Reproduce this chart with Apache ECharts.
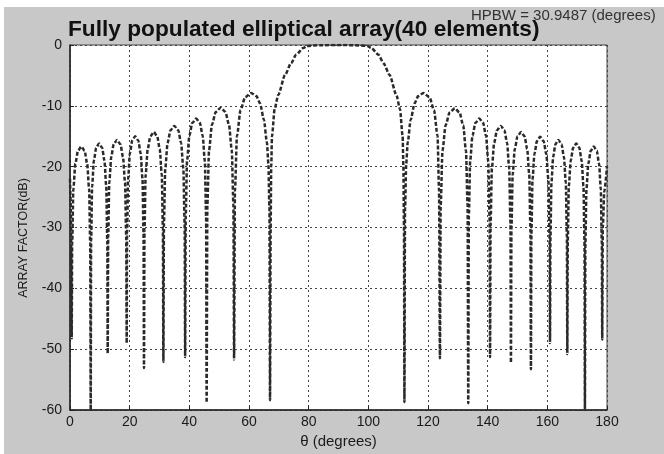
<!DOCTYPE html>
<html>
<head>
<meta charset="utf-8">
<title>Fully populated elliptical array</title>
<script src="https://cdn.jsdelivr.net/npm/echarts@6/dist/echarts.min.js"></script>
<style>
  html, body { margin: 0; padding: 0; background: #ffffff; }
  #chart { position: absolute; left: 4px; top: 7px; width: 660px; height: 447px; }
</style>
</head>
<body>
<div id="chart"></div>
<script>
// Array factor of a 40-element elliptical array, in dB versus angle (degrees).

// Side lobes left of broadside
const thetaLeft = [
  0, 0.3, 0.57,
  0.73, 1.12, 1.80, 2.67, 3.8, 4.90, 5.75, 6.41, 6.78, 6.94,
  7.08, 7.42, 8.01, 8.77, 9.75, 10.76, 11.54, 12.15, 12.50, 12.64,
  12.80, 13.17, 13.82, 14.66, 15.75, 16.89, 17.76, 18.45, 18.84, 19.0,
  19.14, 19.48, 20.08, 20.85, 21.85, 22.88, 23.68, 24.3, 24.65, 24.8,
  24.97, 25.36, 26.05, 26.95, 28.1, 29.22, 30.08, 30.76, 31.14, 31.3,
  31.49, 31.93, 32.71, 33.71, 35.0, 36.26, 37.23, 37.99, 38.42, 38.6,
  38.79, 39.23, 40.01, 41.01, 42.3, 43.52, 44.47, 45.2, 45.62, 45.8,
  46.04, 46.6, 47.59, 48.86, 50.5, 52.07, 53.29, 54.23, 54.77, 55.0,
  55.29, 55.97, 57.17, 58.7, 60.7, 62.5, 63.7, 65.0, 66.0, 66.5, 66.85, 67.05
];
const dbLeft = [
  -22, -27, -48.2,
  -32.7, -23.7, -19.5, -17.4, -16.7, -17.4, -19.5, -23.7, -32.7, -60,
  -32.2, -23.2, -19.0, -16.9, -16.2, -16.9, -19.0, -23.2, -32.2, -50.7,
  -31.6, -22.6, -18.4, -16.3, -15.6, -16.3, -18.4, -22.6, -31.6, -49.0,
  -31.0, -22.0, -17.8, -15.7, -15.0, -15.7, -17.8, -22.0, -31.0, -53.1,
  -30.3, -21.3, -17.1, -15.0, -14.3, -15.0, -17.1, -21.3, -30.3, -52.1,
  -29.3, -20.3, -16.1, -14.0, -13.3, -14.0, -16.1, -20.3, -29.3, -51.3,
  -28.1, -19.1, -14.9, -12.8, -12.1, -12.8, -14.9, -19.1, -28.1, -58.8,
  -26.3, -17.3, -13.1, -11.0, -10.3, -11.0, -13.1, -17.3, -26.3, -51.7,
  -23.9, -14.9, -10.7, -8.6, -7.9, -8.4, -9.6, -12.3, -16, -19.5, -27, -58.4
];

// Main beam
const thetaMain = [
  67.25, 67.45, 67.7, 68.6, 69.8, 72.1, 74.1, 75.8, 78.2, 79.5, 84, 89.6,
  95.2, 99.7, 101.0, 103.4, 105.1, 107.1, 109.4, 110.6, 111.5, 111.75, 111.95, 112.1
];
const dbMain = [
  -30, -20, -15, -10.5, -8.2, -4.9, -3.0, -1.6, -0.5, -0.15, -0.03, 0,
  -0.03, -0.15, -0.5, -1.6, -3.0, -4.9, -8.2, -10.5, -15, -20, -30, -58.7
];

// Side lobes right of broadside
const thetaRight = [
  112.3, 112.7, 113.2, 114.2, 115.5, 116.7, 118.5, 120.5, 122.0, 123.2, 123.7, 124.0,
  124.25, 124.85, 125.9, 127.25, 129.0, 130.57, 131.79, 132.73, 133.27, 133.5,
  133.69, 134.13, 134.91, 135.91, 137.2, 138.46, 139.43, 140.19, 140.62, 140.8,
  140.98, 141.41, 142.17, 143.14, 144.4, 145.59, 146.51, 147.22, 147.63, 147.8,
  147.97, 148.38, 149.09, 150.01, 151.2, 152.35, 153.25, 153.94, 154.33, 154.5,
  154.66, 155.03, 155.68, 156.52, 157.6, 158.75, 159.65, 160.34, 160.73, 160.9,
  161.04, 161.38, 161.96, 162.72, 163.7, 164.75, 165.56, 166.19, 166.55, 166.7,
  166.85, 167.21, 167.84, 168.65, 169.7, 170.71, 171.5, 172.11, 172.45, 172.6,
  172.75, 173.11, 173.74, 174.55, 175.6, 176.58, 177.34, 177.92, 178.26, 178.4,
  178.6, 179.1, 180
];
const dbRight = [
  -27, -19.5, -16, -12.3, -9.6, -8.4, -7.9, -8.6, -10.7, -14.9, -23.9, -51.5,
  -26.4, -17.4, -13.2, -11.1, -10.4, -11.1, -13.2, -17.4, -26.4, -58.9,
  -28.1, -19.1, -14.9, -12.8, -12.1, -12.8, -14.9, -19.1, -28.1, -51.3,
  -29.3, -20.3, -16.1, -14.0, -13.3, -14.0, -16.1, -20.3, -29.3, -52.2,
  -30.3, -21.3, -17.1, -15.0, -14.3, -15.0, -17.1, -21.3, -30.3, -53.3,
  -31.1, -22.1, -17.9, -15.8, -15.1, -15.8, -17.9, -22.1, -31.1, -49.0,
  -31.6, -22.6, -18.4, -16.3, -15.6, -16.3, -18.4, -22.6, -31.6, -50.8,
  -32.2, -23.2, -19.0, -16.9, -16.2, -16.9, -19.0, -23.2, -32.2, -60,
  -32.7, -23.7, -19.5, -17.4, -16.7, -17.4, -19.5, -23.7, -32.7, -48.4,
  -30, -24, -20
];

const xTicks = { min: 0, max: 180, step: 20 };
const yTicks = { min: -60, max: 0, step: 10 };

const titleText = 'Fully populated elliptical array(40 elements)';
const hpbwText = 'HPBW = 30.9487 (degrees)';
const xName = '\u03b8 (degrees)';
const yName = 'ARRAY FACTOR(dB)';

const theta = thetaLeft.concat(thetaMain, thetaRight);
const db = dbLeft.concat(dbMain, dbRight);
const points = theta.map((t, i) => [t, db[i]]);

const FONT = 'Liberation Sans, Arial, sans-serif';
const gridLine = { show: true, lineStyle: { color: '#444', width: 1, type: [2, 3] } };

const chart = echarts.init(document.getElementById('chart'), null, { renderer: 'canvas' });
chart.setOption({
  backgroundColor: '#c8c8c8',
  animation: false,
  title: {
    text: titleText,
    left: 64,
    top: 11,
    padding: 0,
    textStyle: { fontFamily: FONT, fontSize: 22.7, fontWeight: 'bold', color: '#111' }
  },
  grid: {
    left: 66, top: 38, width: 537, height: 365,
    show: true, backgroundColor: '#ffffff', borderColor: '#444', borderWidth: 1
  },
  xAxis: {
    type: 'value',
    min: xTicks.min, max: xTicks.max, interval: xTicks.step,
    name: xName, nameLocation: 'middle', nameGap: 22,
    nameTextStyle: { fontFamily: FONT, fontSize: 15, color: '#1a1a1a' },
    axisLine: { show: true, onZero: false, lineStyle: { color: '#222', width: 1.5 } },
    axisTick: { show: true, inside: true, length: 4, lineStyle: { color: '#222' } },
    axisLabel: { margin: 5, fontFamily: FONT, fontSize: 14, color: '#1a1a1a' },
    splitLine: gridLine
  },
  yAxis: {
    type: 'value',
    min: yTicks.min, max: yTicks.max, interval: yTicks.step,
    axisLine: { show: true, onZero: false, lineStyle: { color: '#222', width: 1.5 } },
    axisTick: { show: true, inside: true, length: 4, lineStyle: { color: '#222' } },
    axisLabel: { margin: 8, fontFamily: FONT, fontSize: 14, color: '#1a1a1a' },
    splitLine: gridLine
  },
  graphic: [
    {
      type: 'text', x: 467, y: 1,
      style: { text: hpbwText, fontFamily: FONT, fontSize: 15, fill: '#333', verticalAlign: 'top' }
    },
    {
      type: 'text', x: 20, y: 231, rotation: Math.PI / 2,
      style: { text: yName, fontFamily: FONT, fontSize: 12.5, fill: '#1a1a1a', align: 'center', verticalAlign: 'middle' }
    }
  ],
  series: [{
    type: 'line',
    data: points,
    showSymbol: false,
    smooth: 0.25,
    smoothMonotone: 'x',
    clip: true,
    lineStyle: { color: '#2a2a2a', width: 2.5, type: [4, 2] }
  }]
});
</script>
</body>
</html>
